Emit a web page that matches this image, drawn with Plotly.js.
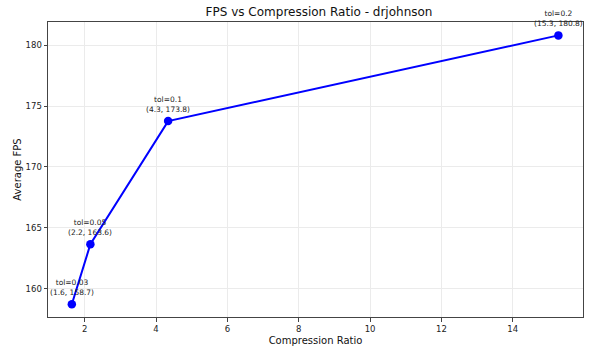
<!DOCTYPE html>
<html>
<head>
<meta charset="utf-8">
<script src="https://cdn.plot.ly/plotly-3.0.1.min.js"></script>
<style>html,body{margin:0;padding:0;background:#fff;}#chart{width:593px;height:349px;}</style>
</head>
<body>
<div id="chart"></div>
<script>
const compressionRatio = [1.64, 2.16, 4.34, 15.28];
const avgFps = [158.71, 163.64, 173.77, 180.82];
const tolLabels = ["tol=0.03", "tol=0.05", "tol=0.1", "tol=0.2"];
const pointLabels = ["(1.6, 158.7)", "(2.2, 163.6)", "(4.3, 173.8)", "(15.3, 180.8)"];
const xTicks = [2, 4, 6, 8, 10, 12, 14];
const yTicks = [160, 165, 170, 175, 180];

const font = "DejaVu Sans, sans-serif";

const trace = {
  x: compressionRatio,
  y: avgFps,
  mode: "lines+markers",
  type: "scatter",
  line: {color: "#0000ff", width: 2},
  marker: {color: "#0000ff", size: 8.5},
  hoverinfo: "skip"
};

const annotations = compressionRatio.map((x, i) => ({
  x: x, y: avgFps[i], xref: "x", yref: "y",
  text: tolLabels[i] + "<br>" + pointLabels[i],
  showarrow: false, yanchor: "bottom", xanchor: "center",
  yshift: 5,
  font: {family: font, size: 7.5, color: "#222"}
}));

const axisCommon = {
  showline: true, linecolor: "#444", linewidth: 1, mirror: true,
  ticks: "outside", ticklen: 3.5, tickcolor: "#444", tickwidth: 1,
  showgrid: true, gridcolor: "#ebebeb", gridwidth: 1,
  zeroline: false,
  tickfont: {family: font, size: 8.5, color: "#222"}
};

const layout = {
  width: 593, height: 349,
  margin: {l: 48, r: 10, t: 22, b: 32},
  paper_bgcolor: "#fff", plot_bgcolor: "#fff",
  showlegend: false,
  title: {text: "FPS vs Compression Ratio - drjohnson", x: 0.538, xanchor: "center", y: 0.965, yanchor: "middle",
          font: {family: font, size: 12, color: "#111"}},
  xaxis: Object.assign({}, axisCommon, {
    range: [0.972, 15.97], tickvals: xTicks, ticktext: xTicks.map(String),
    title: {text: "Compression Ratio", font: {family: font, size: 10, color: "#111"}, standoff: 4}
  }),
  yaxis: Object.assign({}, axisCommon, {
    range: [157.66, 181.92], tickvals: yTicks, ticktext: yTicks.map(String),
    title: {text: "Average FPS", font: {family: font, size: 10, color: "#111"}, standoff: 2}
  }),
  annotations: annotations
};

Plotly.newPlot("chart", [trace], layout, {displayModeBar: false, staticPlot: true});
</script>
</body>
</html>
